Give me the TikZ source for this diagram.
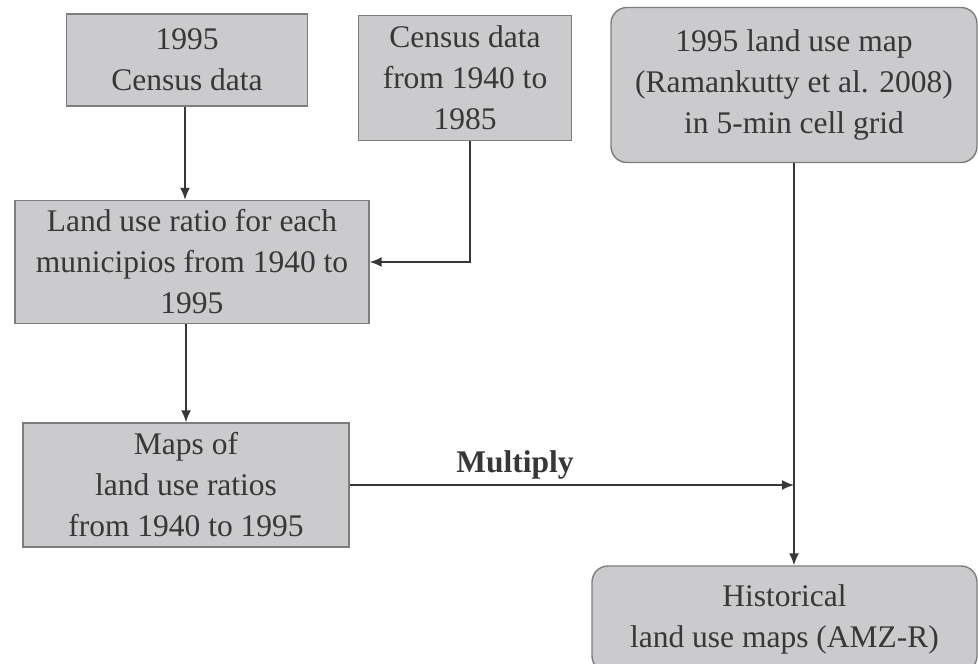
\documentclass[tikz,border=0pt]{standalone}
\usepackage{fontspec}
\setmainfont{Liberation Serif}
\usetikzlibrary{arrows.meta}

\definecolor{boxfill}{RGB}{203,203,205}
\definecolor{boxline}{RGB}{125,125,125}
\definecolor{ink}{RGB}{55,55,55}

\tikzstyle{gb} = [rectangle, fill=boxfill, draw=boxline, line width=1.4pt, align=center, inner sep=0pt]
\tikzstyle{rb} = [gb, rounded corners=16pt]
\tikzstyle{ar} = [draw=ink, line width=1.7pt, -{Latex[length=12pt,width=10pt]}]
\tikzstyle{every node}=[font=\fontsize{31.5}{41}\selectfont, text=ink]

\begin{document}
\begin{tikzpicture}[x=1pt, y=-1pt]
  \fill[white] (0,0) rectangle (978,664);
  \clip (0,0) rectangle (978,664);

  % left column
  \node[gb, minimum width=241pt, minimum height=92pt] (cen95) at (187,60) {1995\\Census data};
  \node[gb, minimum width=213pt, minimum height=125pt] (cen40) at (465,78) {Census data\\from 1940 to\\1985};
  \node[gb, minimum width=354pt, minimum height=123pt] (ratio) at (192,262) {Land use ratio for each\\municipios from 1940 to\\1995};
  \node[gb, minimum width=326pt, minimum height=124pt] (maps) at (186,485) {Maps of\\land use ratios\\from 1940 to 1995};

  % right column
  \node[rb, minimum width=366pt, minimum height=155pt] (lum) at (794,85) {1995 land use map\\(Ramankutty et al. 2008)\\in 5-min cell grid};
  \node[rb, minimum width=385pt, minimum height=106pt] (hist) at (784.5,619) {Historical\\land use maps (AMZ-R)};

  % connectors
  \draw[ar] (cen95.south -| 185,0) -- (ratio.north -| 185,0);
  \draw[ar] ([xshift=5pt]cen40.south) |- (ratio.east);
  \draw[ar] (ratio.south -| maps.north) -- (maps.north);
  \draw[ar] (maps.east) -- (maps.east -| lum.south);
  \draw[ar] (lum.south) -- (lum.south |- hist.north);
  \node[font=\fontsize{31.5}{36}\selectfont\bfseries] (mult) at (515,465) {Multiply};
\end{tikzpicture}
\end{document}
